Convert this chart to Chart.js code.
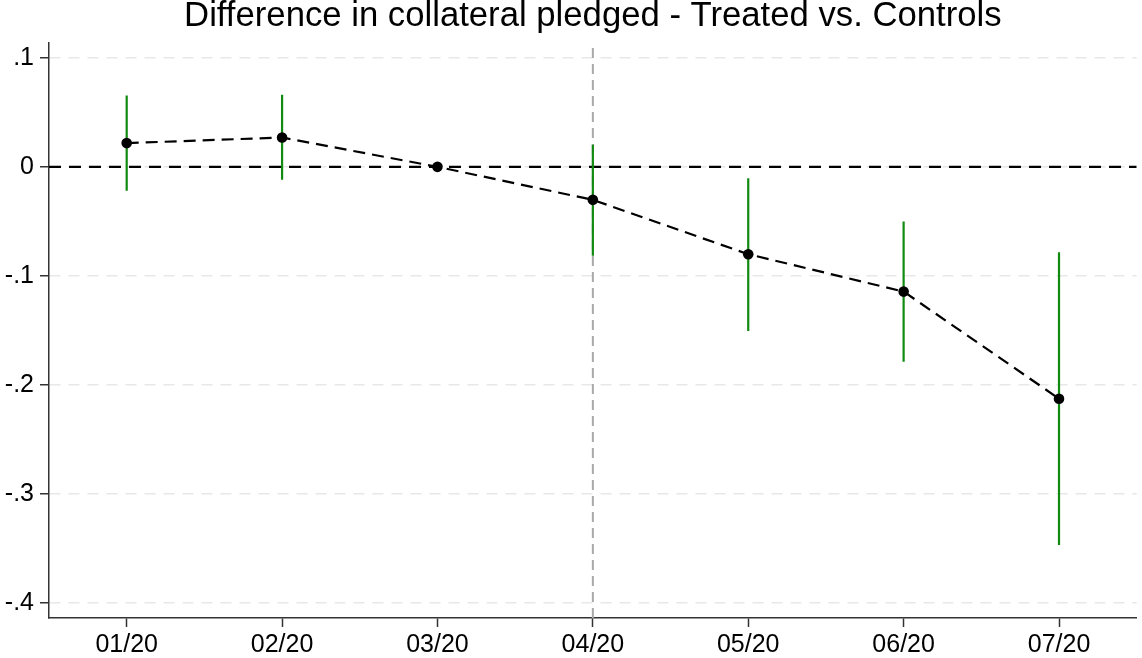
<!DOCTYPE html>
<html>
<head>
<meta charset="utf-8">
<script src="https://cdn.jsdelivr.net/npm/chart.js@4"></script>
<style>
html,body{margin:0;padding:0;background:#fff;}
#wrap{width:1142px;height:658px;position:relative;}
</style>
</head>
<body>
<div id="wrap"><canvas id="c" width="1142" height="658"></canvas></div>
<script>
const titleText = 'Difference in collateral pledged - Treated vs. Controls';
const categories = ['01/20','02/20','03/20','04/20','05/20','06/20','07/20'];
const coef   = [0.0218, 0.0269, 0, -0.0303, -0.0802, -0.1145, -0.2128];
const ciLow  = [-0.0220, -0.0119, null, -0.0817, -0.1506, -0.1790, -0.3471];
const ciHigh = [0.0655, 0.0661, null, 0.0202, -0.0104, -0.0502, -0.0783];
const yTicks = [0.1, 0, -0.1, -0.2, -0.3, -0.4];
const yTickLabels = ['.1', '0', '-.1', '-.2', '-.3', '-.4'];
const eventIndex = 3; // 04/20
const yMin = -0.4141, yMax = 0.1137;

const FONT = "'Liberation Sans', Arial, sans-serif";
const xPos = categories.map((c, i) => i + 1);

const datasets = [];
datasets.push({
  label: 'coef',
  data: coef.map((v, i) => ({x: xPos[i], y: v})),
  borderColor: '#000', backgroundColor: '#000',
  borderWidth: 2.2, borderDash: [12, 7],
  pointRadius: 5.3, pointBackgroundColor: '#000', pointBorderWidth: 0,
  showLine: true, tension: 0
});
ciLow.forEach((lo, i) => {
  if (lo === null) return;
  datasets.push({
    label: 'ci' + i,
    data: [{x: xPos[i], y: lo}, {x: xPos[i], y: ciHigh[i]}],
    borderColor: '#108a10', borderWidth: 2.2, pointRadius: 0,
    showLine: true
  });
});
datasets.push({
  label: 'zero',
  data: [{x: 0.5, y: 0}, {x: xPos.length + 0.5, y: 0}],
  borderColor: '#000', borderWidth: 2.2, borderDash: [12, 8],
  pointRadius: 0, showLine: true
});
datasets.push({
  label: 'event',
  data: [{x: xPos[eventIndex], y: yMin}, {x: xPos[eventIndex], y: yMax}],
  borderColor: '#a8a8a8', borderWidth: 2, borderDash: [10, 6],
  pointRadius: 0, showLine: true
});

new Chart(document.getElementById('c'), {
  type: 'scatter',
  data: {datasets},
  options: {
    responsive: false, animation: false,
    layout: {padding: {left: 0, right: 2, top: 0, bottom: 0}},
    plugins: {
      legend: {display: false}, tooltip: {enabled: false},
      title: {
        display: true, text: titleText, color: '#000', fullSize: false,
        font: {family: FONT, size: 34.7, weight: 'normal', lineHeight: 0.95},
        padding: {top: 0, bottom: 10}
      }
    },
    scales: {
      x: {
        type: 'linear', min: 0.5, max: xPos.length + 0.5,
        afterBuildTicks: s => { s.ticks = xPos.map(v => ({value: v})); },
        afterFit: s => { s.height = 40; },
        ticks: {
          autoSkip: false, maxRotation: 0, padding: 3,
          color: '#000', font: {family: FONT, size: 25},
          callback: (v) => categories[Math.round(v) - 1] || ''
        },
        grid: {drawOnChartArea: false, drawTicks: true, tickLength: 9, tickColor: '#333', tickWidth: 1.5},
        border: {display: true, color: '#333', width: 1.5}
      },
      y: {
        type: 'linear', min: yMin, max: yMax,
        afterBuildTicks: s => { s.ticks = yTicks.map(v => ({value: v})); },
        afterFit: s => { s.width = 49; },
        ticks: {
          padding: 6, color: '#000', font: {family: FONT, size: 25},
          callback: (v) => { const k = yTicks.findIndex(t => Math.abs(t - v) < 1e-9); return k >= 0 ? yTickLabels[k] : ''; }
        },
        grid: {color: '#e8e8e8', lineWidth: 1.5, drawTicks: true, tickLength: 9, tickColor: '#333', tickWidth: 1.5, tickBorderDash: []},
        border: {display: true, color: '#333', width: 1.5, dash: [11, 8]}
      }
    }
  }
});
</script>
</body>
</html>
